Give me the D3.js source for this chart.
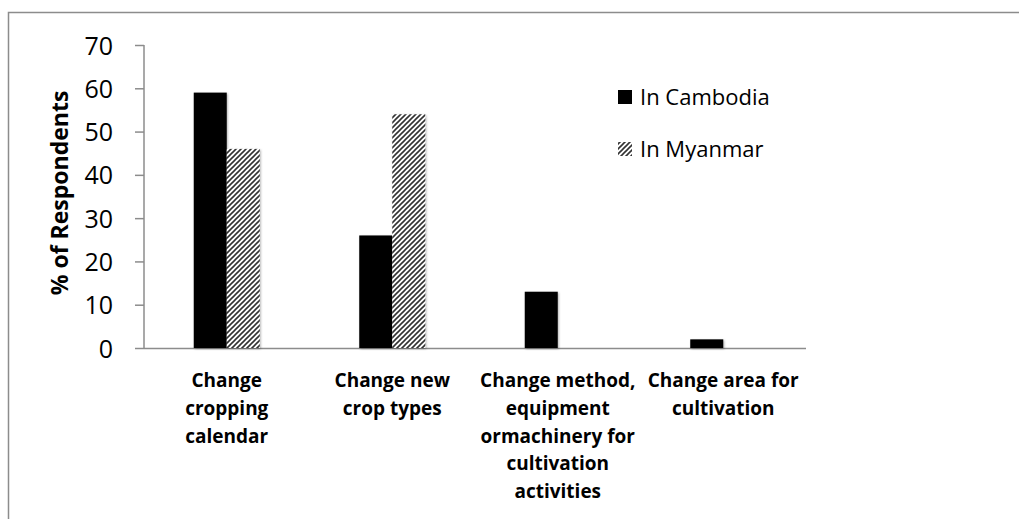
<!DOCTYPE html>
<html>
<head>
<meta charset="utf-8">
<script src="https://cdn.jsdelivr.net/npm/d3@7"></script>
<style>
  body { margin: 0; background: #fff; }
  text { font-family: "Open Sans", "Liberation Sans", sans-serif; fill: #000; }
</style>
</head>
<body>
<svg></svg>
<script>
var categories = [
  ["Change", "cropping", "calendar"],
  ["Change new", "crop types"],
  ["Change method,", "equipment", "ormachinery for", "cultivation", "activities"],
  ["Change area for", "cultivation"]
];
var seriesNames = ["In Cambodia", "In Myanmar"];
var cambodia = [59, 26, 13, 2];
var myanmar = [46, 54, 0, 0];
var yTicks = [0, 10, 20, 30, 40, 50, 60, 70];

var width = 1019, height = 519;
var svg = d3.select("svg").attr("width", width).attr("height", height);

var defs = svg.append("defs");
var pat = defs.append("pattern")
    .attr("id", "hatch")
    .attr("patternUnits", "userSpaceOnUse")
    .attr("width", 5).attr("height", 5);
pat.append("rect").attr("width", 5).attr("height", 5).attr("fill", "#fff");
pat.append("path")
    .attr("d", "M-1,1 l2,-2 M0,5 l5,-5 M4,6 l2,-2")
    .attr("stroke", "#333").attr("stroke-width", 1.6);

var shadow = defs.append("filter").attr("id", "shadow")
    .attr("x", "-20%").attr("y", "-5%").attr("width", "140%").attr("height", "110%");
shadow.append("feDropShadow")
    .attr("dx", 1).attr("dy", 1).attr("stdDeviation", 1.2)
    .attr("flood-color", "#000").attr("flood-opacity", 0.3);

// outer frame (top and left edges visible)
svg.append("path")
    .attr("d", "M8.5,519 V12.5 H1019")
    .attr("fill", "none").attr("stroke", "#8c8c8c").attr("stroke-width", 1.5);

var plotLeft = 144, plotRight = 806, plotTop = 45, plotBottom = 348;

var x = d3.scaleBand().domain(d3.range(categories.length)).range([plotLeft, plotRight]);
var y = d3.scaleLinear().domain([0, 70]).range([plotBottom, plotTop]);
var barW = 33;

// y axis
var yAxis = svg.append("g").attr("transform", "translate(" + plotLeft + ",0)")
    .call(d3.axisLeft(y).tickValues(yTicks).tickSize(9).tickPadding(22));
yAxis.select(".domain").attr("stroke", "#8c8c8c").attr("stroke-width", 1.5)
    .attr("d", "M0," + plotTop + "V" + plotBottom);
yAxis.selectAll(".tick line").attr("stroke", "#8c8c8c").attr("stroke-width", 1.5);
yAxis.selectAll(".tick text")
    .style("font-family", "'Open Sans', sans-serif")
    .style("font-size", "25px").attr("fill", "#000").attr("dy", "0.36em");

// x axis line
svg.append("line")
    .attr("x1", plotLeft).attr("x2", plotRight)
    .attr("y1", plotBottom + 0.5).attr("y2", plotBottom + 0.5)
    .attr("stroke", "#8c8c8c").attr("stroke-width", 1.5);

// bars
var bars = svg.append("g").attr("filter", "url(#shadow)");
bars.selectAll("rect.cam")
  .data(cambodia)
  .enter().append("rect")
    .attr("class", "cam")
    .attr("x", function(d, i) { return x(i) + x.bandwidth() / 2 - barW; })
    .attr("y", function(d) { return y(d); })
    .attr("width", barW)
    .attr("height", function(d) { return y(0) - y(d); })
    .attr("fill", "#000");

bars.selectAll("rect.mya")
  .data(myanmar)
  .enter().append("rect")
    .attr("class", "mya")
    .attr("x", function(d, i) { return x(i) + x.bandwidth() / 2; })
    .attr("y", function(d) { return y(d); })
    .attr("width", barW)
    .attr("height", function(d) { return y(0) - y(d); })
    .attr("fill", "url(#hatch)");

// category labels
var cat = svg.append("g").selectAll("text")
  .data(categories)
  .enter().append("text")
    .attr("text-anchor", "middle")
    .style("font-weight", "bold")
    .style("font-size", "19px");
cat.selectAll("tspan")
  .data(function(d, i) { return d.map(function(s) { return { s: s, i: i }; }); })
  .enter().append("tspan")
    .attr("x", function(d) { return x(d.i) + x.bandwidth() / 2; })
    .attr("y", function(d, j) { return 387 + j * 27.8; })
    .text(function(d) { return d.s; });

// y title
svg.append("text")
    .attr("transform", "translate(68,193) rotate(-90)")
    .attr("text-anchor", "middle")
    .style("font-weight", "bold")
    .style("font-size", "23px")
    .text("% of Respondents");

// legend
var legend = svg.append("g").selectAll("g")
  .data(seriesNames)
  .enter().append("g")
    .attr("transform", function(d, i) { return "translate(618," + (97 + i * 52) + ")"; });
legend.append("rect")
    .attr("x", 0).attr("y", -7).attr("width", 14).attr("height", 14)
    .attr("fill", function(d, i) { return i === 0 ? "#000" : "url(#hatch)"; });
legend.append("text")
    .attr("x", 22).attr("dy", "0.36em")
    .style("font-size", "22px")
    .text(function(d) { return d; });
</script>
</body>
</html>
